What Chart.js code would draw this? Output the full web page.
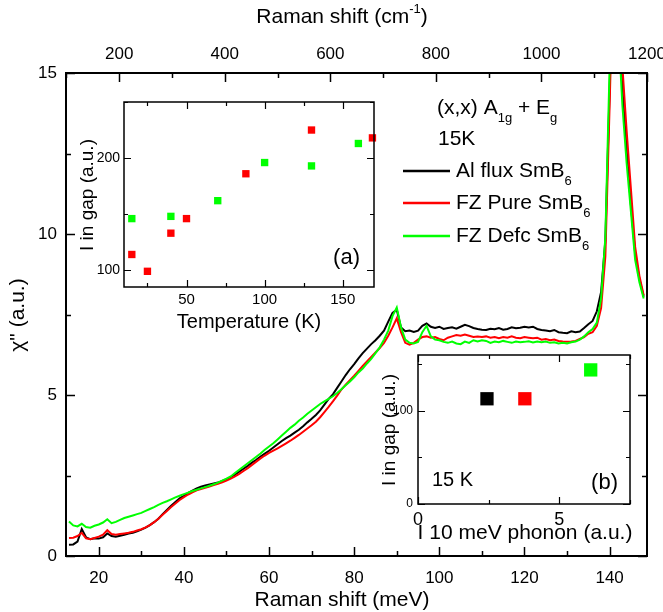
<!DOCTYPE html>
<html>
<head>
<meta charset="utf-8">
<script src="https://cdn.jsdelivr.net/npm/chart.js@4.4.0/dist/chart.umd.min.js"></script>
<style>
  html, body { margin: 0; padding: 0; background: #fff; }
  #wrap { position: relative; width: 663px; height: 612px; }
  canvas { position: absolute; }
</style>
</head>
<body>
<div id="wrap">
  <canvas id="main" width="663" height="612" style="left:0;top:0"></canvas>
  <canvas id="insetA" width="315" height="245" style="left:70px;top:92px"></canvas>
  <canvas id="insetB" width="273" height="205" style="left:372px;top:345px"></canvas>
</div>
<script>
const FONT = '"Liberation Sans", Arial, sans-serif';

// Raman shift (meV), 1 meV grid
const energy = [
  13, 14, 15, 16, 17, 18, 19, 20, 21, 22, 23, 24, 25, 26, 27, 28, 29, 30, 31, 32,
  33, 34, 35, 36, 37, 38, 39, 40, 41, 42, 43, 44, 45, 46, 47, 48, 49, 50, 51, 52,
  53, 54, 55, 56, 57, 58, 59, 60, 61, 62, 63, 64, 65, 66, 67, 68, 69, 70, 71, 72,
  73, 74, 75, 76, 77, 78, 79, 80, 81, 82, 83, 84, 85, 86, 87, 88, 89, 90, 91, 92,
  93, 94, 95, 96, 97, 98, 99, 100, 101, 102, 103, 104, 105, 106, 107, 108, 109, 110, 111, 112,
  113, 114, 115, 116, 117, 118, 119, 120, 121, 122, 123, 124, 125, 126, 127, 128, 129, 130, 131, 132,
  133, 134, 135, 136, 137, 138, 139, 140, 141, 142, 143, 144, 145, 146, 147, 148
];

const alFlux = [
  0.35, 0.36, 0.45, 0.84, 0.58, 0.52, 0.55, 0.54, 0.58, 0.70, 0.62, 0.60, 0.63, 0.66, 0.70, 0.72, 0.77, 0.82, 0.88, 0.96,
  1.05, 1.16, 1.30, 1.43, 1.56, 1.68, 1.79, 1.87, 1.96, 2.03, 2.10, 2.15, 2.19, 2.22, 2.25, 2.28, 2.33, 2.39, 2.45, 2.53,
  2.62, 2.71, 2.80, 2.90, 2.99, 3.09, 3.18, 3.27, 3.37, 3.47, 3.57, 3.66, 3.74, 3.83, 3.92, 4.03, 4.15, 4.26, 4.38, 4.52,
  4.70, 4.88, 5.02, 5.22, 5.42, 5.62, 5.80, 5.96, 6.14, 6.30, 6.44, 6.58, 6.70, 6.84, 7.00, 7.28, 7.55, 7.65, 7.10, 6.98,
  7.00, 6.96, 7.00, 7.15, 7.22, 7.12, 7.08, 7.12, 7.05, 7.08, 7.10, 7.06, 7.12, 7.18, 7.14, 7.08, 7.05, 7.03, 7.02, 7.06,
  7.04, 7.08, 7.03, 7.05, 7.10, 7.07, 7.09, 7.12, 7.10, 7.12, 7.05, 7.02, 7.00, 6.98, 7.02, 6.95, 6.93, 6.92, 6.98, 6.95,
  6.97, 7.08, 7.20, 7.30, 7.60, 8.20, 9.80, 14.5, 19.0, 17.0, 14.5, 12.6, 10.9, 9.4, 8.6, 8.05
];

const fzPure = [
  0.56, 0.57, 0.62, 0.72, 0.55, 0.52, 0.56, 0.60, 0.66, 0.80, 0.68, 0.66, 0.68, 0.70, 0.72, 0.75, 0.79, 0.83, 0.89, 0.96,
  1.05, 1.16, 1.28, 1.40, 1.52, 1.63, 1.74, 1.83, 1.91, 1.98, 2.04, 2.08, 2.12, 2.16, 2.20, 2.24, 2.29, 2.34, 2.40, 2.47,
  2.55, 2.64, 2.73, 2.83, 2.93, 3.03, 3.12, 3.20, 3.27, 3.34, 3.42, 3.50, 3.58, 3.67, 3.76, 3.86, 3.96, 4.06, 4.17, 4.31,
  4.47, 4.63, 4.80, 4.98, 5.17, 5.32, 5.46, 5.60, 5.75, 5.90, 6.04, 6.18, 6.32, 6.46, 6.62, 6.84, 7.10, 7.38, 6.95, 6.62,
  6.56, 6.62, 6.72, 6.80, 6.82, 6.78, 6.80, 6.74, 6.70, 6.78, 6.82, 6.86, 6.84, 6.88, 6.84, 6.80, 6.82, 6.80, 6.82, 6.78,
  6.80, 6.76, 6.80, 6.78, 6.82, 6.78, 6.76, 6.80, 6.78, 6.76, 6.78, 6.72, 6.74, 6.70, 6.72, 6.68, 6.66, 6.65, 6.66, 6.68,
  6.74, 6.80, 6.90, 6.95, 7.15, 7.70, 9.30, 14.0, 19.0, 17.5, 15.2, 13.2, 11.4, 9.6, 8.7, 8.1
];

const fzDefc = [
  1.07, 0.95, 0.92, 1.00, 0.90, 0.88, 0.94, 0.98, 1.04, 1.14, 1.02, 1.06, 1.12, 1.18, 1.22, 1.26, 1.30, 1.34, 1.40, 1.46,
  1.52, 1.59, 1.65, 1.70, 1.76, 1.82, 1.87, 1.92, 1.97, 2.02, 2.06, 2.10, 2.14, 2.18, 2.23, 2.28, 2.34, 2.40, 2.47, 2.58,
  2.68, 2.78, 2.88, 2.98, 3.08, 3.18, 3.30, 3.40, 3.50, 3.62, 3.74, 3.86, 3.98, 4.08, 4.20, 4.30, 4.42, 4.52, 4.62, 4.72,
  4.80, 4.88, 4.96, 5.06, 5.18, 5.30, 5.42, 5.55, 5.70, 5.82, 5.98, 6.12, 6.30, 6.48, 6.72, 7.00, 7.45, 7.72, 7.10, 6.72,
  6.62, 6.60, 6.65, 6.95, 7.15, 6.82, 6.72, 6.70, 6.65, 6.62, 6.66, 6.60, 6.58, 6.66, 6.62, 6.70, 6.66, 6.70, 6.68, 6.62,
  6.66, 6.64, 6.68, 6.65, 6.62, 6.66, 6.64, 6.65, 6.67, 6.63, 6.66, 6.64, 6.66, 6.62, 6.64, 6.60, 6.62, 6.60, 6.64, 6.66,
  6.72, 6.82, 6.95, 7.05, 7.25, 8.00, 9.90, 15.2, 19.5, 16.5, 14.0, 12.2, 10.7, 9.2, 8.5, 8.0
];

// inset (a): gap intensity vs temperature
const tempPure = [15, 25, 40, 50, 88, 130, 169];
const gapPure = [114, 99, 133, 146, 186, 225, 218];
const tempDefc = [15, 40, 70, 100, 130, 160];
const gapDefc = [146, 148, 162, 196, 193, 213];

// inset (b): gap intensity vs 10 meV phonon at 15 K
const phonon = [2.44, 3.78, 6.11];
const gap15K = [113, 113, 144];
const sampleColors = ['#000000', '#ff0000', '#00ff00'];

const MEV_TO_CM = 8.0655;

function pts(xs, ys) {
  return xs.map((x, i) => ({ x: x, y: ys[i] }));
}

// text with sub/superscripts: parts = [[text, ''|'sub'|'sup'], ...]
function drawRich(ctx, x, y, parts, size, align, rotate) {
  const small = Math.round(size * 0.62);
  let w = 0;
  parts.forEach(p => {
    ctx.font = (p[1] ? small : size) + 'px ' + FONT;
    w += ctx.measureText(p[0]).width;
  });
  ctx.save();
  ctx.translate(x, y);
  if (rotate) ctx.rotate(rotate);
  let cx = align === 'center' ? -w / 2 : align === 'right' ? -w : 0;
  ctx.textBaseline = 'middle';
  ctx.textAlign = 'left';
  ctx.fillStyle = '#000';
  parts.forEach(p => {
    ctx.font = (p[1] ? small : size) + 'px ' + FONT;
    const dy = p[1] === 'sub' ? size * 0.48 : p[1] === 'sup' ? -size * 0.38 : 0;
    ctx.fillText(p[0], cx, dy);
    cx += ctx.measureText(p[0]).width;
  });
  ctx.restore();
}

// box frame + inward major/minor ticks on every side
const frameTicks = {
  id: 'frameTicks',
  beforeDatasetsDraw(chart, args, opts) {
    if (!opts.fill) return;
    const a = chart.chartArea;
    chart.ctx.save();
    chart.ctx.fillStyle = '#fff';
    chart.ctx.fillRect(a.left, a.top, a.right - a.left, a.bottom - a.top);
    chart.ctx.restore();
  },
  afterDatasetsDraw(chart, args, opts) {
    const ctx = chart.ctx;
    const a = chart.chartArea;
    ctx.save();
    ctx.strokeStyle = '#000';
    ctx.lineWidth = opts.lineWidth;
    opts.axes.forEach(ax => {
      const scale = chart.scales[ax.scale];
      const k0 = Math.ceil(scale.min / ax.step - 1e-6);
      for (let k = k0; k * ax.step <= scale.max + 1e-6; k++) {
        const v = k * ax.step;
        const r = v / ax.major;
        const len = Math.abs(r - Math.round(r)) < 1e-6 ? opts.long : opts.short;
        const p = Math.round(scale.getPixelForValue(v)) + 0.5;
        ctx.beginPath();
        ax.sides.forEach(side => {
          if (side === 'bottom') { ctx.moveTo(p, a.bottom); ctx.lineTo(p, a.bottom - len); }
          if (side === 'top') { ctx.moveTo(p, a.top); ctx.lineTo(p, a.top + len); }
          if (side === 'left') { ctx.moveTo(a.left, p); ctx.lineTo(a.left + len, p); }
          if (side === 'right') { ctx.moveTo(a.right, p); ctx.lineTo(a.right - len, p); }
        });
        ctx.stroke();
      }
    });
    ctx.lineWidth = opts.frameWidth;
    ctx.strokeRect(a.left, a.top, a.right - a.left, a.bottom - a.top);
    ctx.restore();
  }
};

// free texts drawn on the canvas
const labels = {
  id: 'labels',
  afterDraw(chart, args, opts) {
    const ctx = chart.ctx;
    opts.items.forEach(it => {
      drawRich(ctx, it.x, it.y, it.parts, it.size, it.align || 'left', it.rotate || 0);
    });
    (opts.lines || []).forEach(l => {
      ctx.save();
      ctx.strokeStyle = l.color;
      ctx.lineWidth = 2.5;
      ctx.beginPath();
      ctx.moveTo(l.x1, l.y);
      ctx.lineTo(l.x2, l.y);
      ctx.stroke();
      ctx.restore();
    });
  }
};

function tickFont(size) {
  return { family: FONT, size: size };
}

// fixed-size axis box, no overflow padding for edge labels
function axisOpts(extra, size) {
  return Object.assign({
    type: 'linear',
    grid: { display: false, drawTicks: false },
    border: { display: false },
    afterFit: s => {
      if (s.isHorizontal()) s.height = size; else s.width = size;
      s.paddingLeft = 0; s.paddingRight = 0; s.paddingTop = 0; s.paddingBottom = 0;
    }
  }, extra);
}

const plain = v => String(v);

function createMainChart() {
  const ctx = document.getElementById('main').getContext('2d');
  return new Chart(ctx, {
    type: 'line',
    data: {
      datasets: [
        { label: 'Al flux SmB6', data: pts(energy, alFlux), borderColor: '#000000', order: 3 },
        { label: 'FZ Pure SmB6', data: pts(energy, fzPure), borderColor: '#ff0000', order: 2 },
        { label: 'FZ Defc SmB6', data: pts(energy, fzDefc), borderColor: '#00ff00', order: 1 }
      ]
    },
    options: {
      responsive: false,
      animation: false,
      devicePixelRatio: 1,
      layout: { padding: { left: 0, right: 16, top: 0, bottom: 0 } },
      elements: {
        point: { radius: 0 },
        line: { borderWidth: 2, tension: 0, fill: false }
      },
      scales: {
        x: axisOpts({
          position: 'bottom', min: 12.3, max: 1200 / MEV_TO_CM,
          ticks: { stepSize: 20, includeBounds: false, autoSkip: false, maxRotation: 0, padding: 12, color: '#000', font: tickFont(17), callback: plain }
        }, 56),
        x2: axisOpts({
          position: 'top', min: 12.3 * MEV_TO_CM, max: 1200,
          ticks: { stepSize: 200, includeBounds: false, autoSkip: false, maxRotation: 0, padding: 8, color: '#000', font: tickFont(17), callback: plain }
        }, 73),
        y: axisOpts({
          position: 'left', min: 0, max: 15,
          ticks: { stepSize: 5, includeBounds: false, padding: 9, color: '#000', font: tickFont(17), callback: plain }
        }, 66)
      },
      plugins: {
        legend: { display: false },
        tooltip: { enabled: false },
        frameTicks: {
          lineWidth: 1.5, frameWidth: 2, long: 9, short: 5,
          axes: [
            { scale: 'x', step: 10, major: 20, sides: ['bottom'] },
            { scale: 'x2', step: 100, major: 200, sides: ['top'] },
            { scale: 'y', step: 2.5, major: 5, sides: ['left', 'right'] }
          ]
        },
        labels: {
          items: [
            { x: 342, y: 17, size: 21, align: 'center', parts: [['Raman shift (cm', ''], ['-1', 'sup'], [')', '']] },
            { x: 342, y: 600, size: 21, align: 'center', parts: [['Raman shift (meV)', '']] },
            { x: 18, y: 315, size: 21, align: 'center', rotate: -Math.PI / 2, parts: [['\u03c7" (a.u.)', '']] },
            { x: 437, y: 108, size: 21, parts: [['(x,x) A', ''], ['1g', 'sub'], [' + E', ''], ['g', 'sub']] },
            { x: 438, y: 139, size: 21, parts: [['15K', '']] },
            { x: 456, y: 171, size: 21, parts: [['Al flux SmB', ''], ['6', 'sub']] },
            { x: 456, y: 203, size: 21, parts: [['FZ Pure SmB', ''], ['6', 'sub']] },
            { x: 456, y: 236, size: 21, parts: [['FZ Defc SmB', ''], ['6', 'sub']] }
          ],
          lines: [
            { x1: 403, x2: 450, y: 171, color: '#000000' },
            { x1: 403, x2: 450, y: 203, color: '#ff0000' },
            { x1: 403, x2: 450, y: 236, color: '#00ff00' }
          ]
        }
      }
    },
    plugins: [frameTicks, labels]
  });
}

function createInsetA() {
  const ctx = document.getElementById('insetA').getContext('2d');
  return new Chart(ctx, {
    type: 'scatter',
    data: {
      datasets: [
        { data: pts(tempPure, gapPure), backgroundColor: '#ff0000', borderColor: '#ff0000' },
        { data: pts(tempDefc, gapDefc), backgroundColor: '#00ff00', borderColor: '#00ff00' }
      ]
    },
    options: {
      responsive: false,
      animation: false,
      devicePixelRatio: 1,
      layout: { padding: { left: 0, right: 11, top: 10, bottom: 0 } },
      elements: { point: { pointStyle: 'rect', radius: 5.2, borderWidth: 0 } },
      datasets: { scatter: { clip: false } },
      scales: {
        x: axisOpts({
          position: 'bottom', min: 10, max: 170,
          ticks: { stepSize: 50, includeBounds: false, autoSkip: false, maxRotation: 0, padding: 4, color: '#000', font: tickFont(15) }
        }, 50),
        y: axisOpts({
          position: 'left', min: 85, max: 250,
          ticks: { stepSize: 100, includeBounds: false, padding: 4, color: '#000', font: tickFont(14) }
        }, 54)
      },
      plugins: {
        legend: { display: false },
        tooltip: { enabled: false },
        frameTicks: {
          fill: true, lineWidth: 1.2, frameWidth: 1.5, long: 7, short: 4,
          axes: [
            { scale: 'x', step: 25, major: 50, sides: ['bottom', 'top'] },
            { scale: 'y', step: 50, major: 100, sides: ['left', 'right'] }
          ]
        },
        labels: {
          items: [
            { x: 179, y: 230, size: 20, align: 'center', parts: [['Temperature (K)', '']] },
            { x: 18, y: 103, size: 19, align: 'center', rotate: -Math.PI / 2, parts: [['I in gap (a.u.)', '']] },
            { x: 290, y: 166, size: 22, align: 'right', parts: [['(a)', '']] }
          ]
        }
      }
    },
    plugins: [frameTicks, labels]
  });
}

function createInsetB() {
  const ctx = document.getElementById('insetB').getContext('2d');
  return new Chart(ctx, {
    type: 'scatter',
    data: {
      datasets: [{
        data: pts(phonon, gap15K),
        backgroundColor: sampleColors,
        borderColor: sampleColors
      }]
    },
    options: {
      responsive: false,
      animation: false,
      devicePixelRatio: 1,
      layout: { padding: { left: 0, right: 15, top: 10, bottom: 0 } },
      elements: { point: { pointStyle: 'rect', radius: 9.4, borderWidth: 0 } },
      datasets: { scatter: { clip: false } },
      scales: {
        x: axisOpts({
          position: 'bottom', min: 0, max: 7.5,
          ticks: { stepSize: 5, includeBounds: false, autoSkip: false, maxRotation: 0, padding: 5, color: '#000', font: tickFont(18) }
        }, 46),
        y: axisOpts({
          position: 'left', min: 0, max: 160,
          ticks: { stepSize: 100, includeBounds: false, padding: 5, color: '#000', font: tickFont(12) }
        }, 46)
      },
      plugins: {
        legend: { display: false },
        tooltip: { enabled: false },
        frameTicks: {
          fill: true, lineWidth: 1.2, frameWidth: 1.5, long: 7, short: 4,
          axes: [
            { scale: 'x', step: 2.5, major: 5, sides: ['bottom', 'top'] },
            { scale: 'y', step: 50, major: 100, sides: ['left', 'right'] }
          ]
        },
        labels: {
          items: [
            { x: 153, y: 188, size: 21, align: 'center', parts: [['I 10 meV phonon (a.u.)', '']] },
            { x: 18, y: 85, size: 19, align: 'center', rotate: -Math.PI / 2, parts: [['I in gap (a.u.)', '']] },
            { x: 60, y: 135, size: 20, parts: [['15 K', '']] },
            { x: 246, y: 138, size: 22, align: 'right', parts: [['(b)', '']] }
          ]
        }
      }
    },
    plugins: [frameTicks, labels]
  });
}

createMainChart();
createInsetA();
createInsetB();
</script>
</body>
</html>
